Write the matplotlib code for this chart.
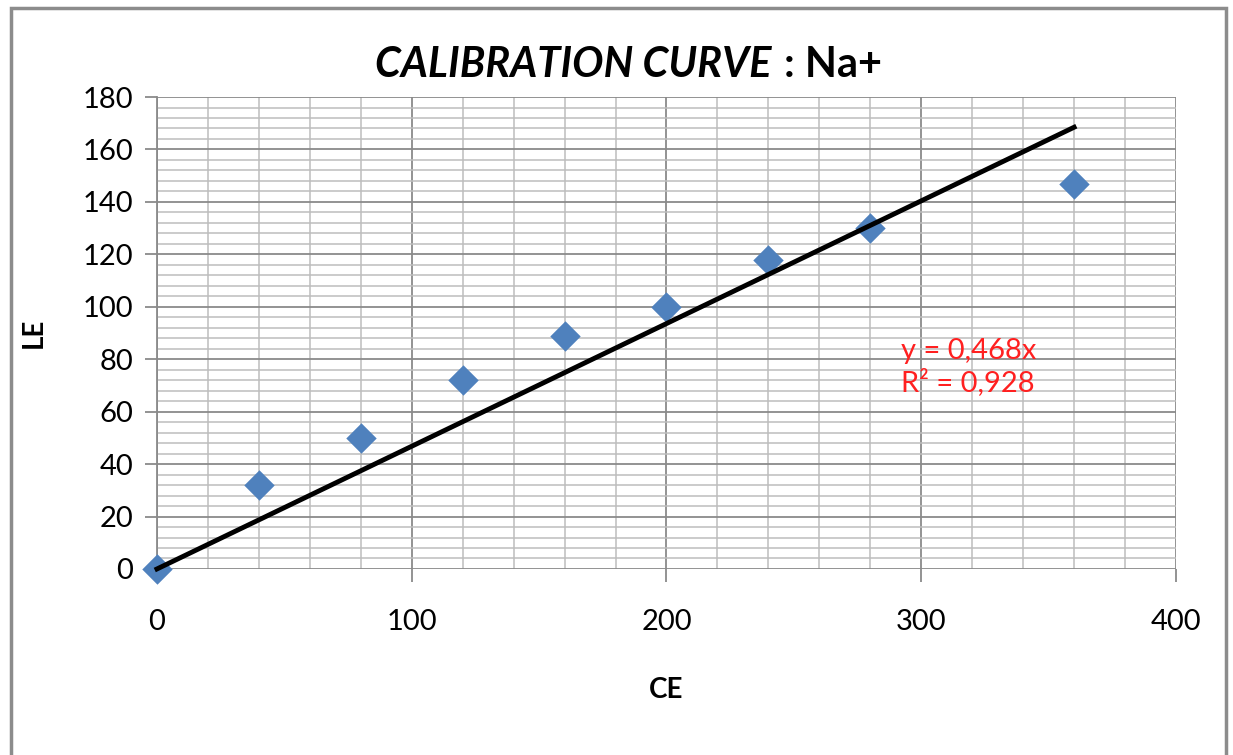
import numpy as np
import matplotlib.pyplot as plt
from matplotlib.patches import Rectangle
from matplotlib.ticker import MultipleLocator

plt.rcParams['font.family'] = ['Lato', 'DejaVu Sans']

# data
ce = [0, 40, 80, 120, 160, 200, 240, 280, 360]
le = [0, 32, 50, 72, 89, 100, 118, 130, 147]
slope = 0.468
r2 = 0.928

fig = plt.figure(figsize=(12.33, 7.55), dpi=100)
ax = fig.add_axes([0.1273, 0.2464, 0.8265, 0.6251])

'frame round the whole chart'
fig.patches.append(Rectangle((0.009, -0.01), 0.985, 0.999, transform=fig.transFigure,
                             fill=False, edgecolor='#8c8c8c', linewidth=2.5))

'grid'
ax.xaxis.set_major_locator(MultipleLocator(100))
ax.xaxis.set_minor_locator(MultipleLocator(20))
ax.yaxis.set_major_locator(MultipleLocator(20))
ax.yaxis.set_minor_locator(MultipleLocator(4))
ax.grid(which='major', color='#8a8a8a', linewidth=1.3)
ax.grid(which='minor', color='#bdbdbd', linewidth=1.1)
ax.set_axisbelow(True)

'points and trend line'
ax.scatter(ce, le, marker='D', s=240, color='#4F81BD', zorder=3, linewidths=0, clip_on=False)
xs = np.array([0, max(ce)])
ax.plot(xs, slope*xs, color='k', linewidth=3.5, zorder=4, clip_on=False)

ax.set_xlim(0, 400)
ax.set_ylim(0, 180)
for s in ['top', 'right', 'bottom']:
    ax.spines[s].set_visible(False)
ax.spines['left'].set_color('#8a8a8a')
ax.spines['left'].set_linewidth(1.3)

ax.tick_params(which='major', length=9, width=1.3, color='#8a8a8a', labelsize=21, pad=8)
ax.tick_params(which='minor', length=0)
ax.tick_params(axis='x', pad=20)

ax.set_xlabel('CE', fontsize=20, fontweight='bold', labelpad=30)
ax.set_ylabel('LE', fontsize=20, fontweight='bold', labelpad=26)

'equation label'
ax.text(292, 77, 'y = %s' % str(slope).replace('.', ',') + 'x\nR² = %s' % str(r2).replace('.', ','),
        color='#ff2020', fontsize=21, linespacing=1.2, va='center', ha='left')

'title'
fig.text(0.626, 0.898, 'CALIBRATION CURVE', fontsize=30, fontweight='bold',
         fontstyle='italic', ha='right', va='baseline')
fig.text(0.636, 0.898, ': Na+', fontsize=30, fontweight='bold', ha='left', va='baseline')

fig.savefig('out.png', dpi=100)
